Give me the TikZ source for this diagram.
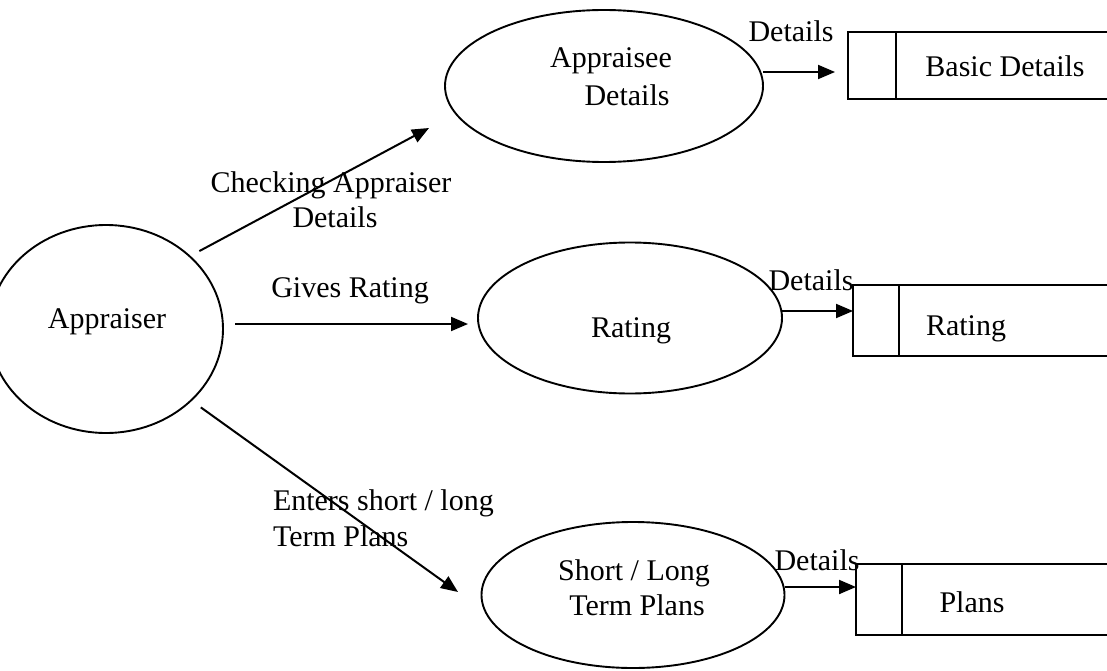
\documentclass[tikz,border=0pt]{standalone}
\usepackage{fontspec}
\setmainfont{Liberation Serif}
\usetikzlibrary{arrows.meta,shapes.geometric}

\begin{document}
\begin{tikzpicture}[x=1pt,y=-1pt,
  proc/.style={draw, ellipse, line width=1.9pt, inner sep=0pt, outer sep=0pt},
  store/.style={draw, rectangle, line width=1.9pt, inner sep=0pt, outer sep=0pt,
                anchor=west, minimum width=300pt},
  txt/.style={inner sep=0pt, outer sep=0pt, anchor=base, font=\fontsize{30}{36}\selectfont},
  ltxt/.style={txt, anchor=base west},
  flow/.style={line width=2pt, -{Triangle[length=17pt,width=14pt]}},
]
\useasboundingbox (0,0) rectangle (1107,671);

% processes
\node[proc, minimum width=234pt, minimum height=208pt] (appr) at (106,329) {};
\node[proc, minimum width=318pt, minimum height=152pt] (appee) at (604,86) {};
\node[proc, minimum width=304pt, minimum height=151pt] (rate) at (630,318) {};
\node[proc, minimum width=303pt, minimum height=146pt] (plan) at (633,595) {};

\node[txt] (apprT) at (107,328) {Appraiser};
\node[txt] (appeeT1) at (611,68) {Appraisee};
\node[txt] (appeeT2) at (627,106) {Details};
\node[txt] (rateT) at (631,337) {Rating};
\node[txt] (planT1) at (634,580) {Short / Long};
\node[txt] (planT2) at (637,615) {Term Plans};

% data stores (open on the right)
\node[store, minimum height=67pt] (s1) at (848,65.5) {};
\node[store, minimum height=71pt] (s2) at (853,320.5) {};
\node[store, minimum height=71pt] (s3) at (856,599.5) {};
\draw[line width=1.9pt] ([xshift=48pt]s1.north west) -- ([xshift=48pt]s1.south west);
\draw[line width=1.9pt] ([xshift=46pt]s2.north west) -- ([xshift=46pt]s2.south west);
\draw[line width=1.9pt] ([xshift=46pt]s3.north west) -- ([xshift=46pt]s3.south west);

\node[txt] (s1T) at (1005,77) {Basic Details};
\node[txt] (s2T) at (966,335) {Rating};
\node[txt] (s3T) at (972,612) {Plans};

% flows from the appraiser
\coordinate (chkEnd) at (429,128);
\coordinate (entEnd) at (458,592);
\draw[flow, shorten <=11pt] (appr.41.7) -- (chkEnd);
\draw[flow, shorten <=12pt, shorten >=10pt] ([yshift=5pt]appr.east) -- ([yshift=-6pt]rate.west);
\draw[flow, shorten <=12pt] (appr.-40) -- (entEnd);

\node[txt] (chkT1) at (331,192) {Checking Appraiser};
\node[txt] (chkT2) at (335,227) {Details};
\node[txt] (givT) at (350,297) {Gives Rating};
\node[ltxt] (entT1) at (273,510) {Enters short / long};
\node[ltxt] (entT2) at (273,546) {Term Plans};

% flows into the stores
\coordinate (d1Start) at ([yshift=14pt]appee.east);
\coordinate (d1End) at (835,72);
\draw[flow] (d1Start) -- (d1End);
\coordinate (d2Start) at ([yshift=7pt]rate.east);
\draw[flow] (d2Start) -- (d2Start -| s2.west);
\coordinate (d3Start) at ([yshift=8pt]plan.east);
\draw[flow] (d3Start) -- (d3Start -| s3.west);

\node[txt] (d1T) at (791,42) {Details};
\node[txt] (d2T) at (811,290) {Details};
\node[txt] (d3T) at (817,570) {Details};
\end{tikzpicture}
\end{document}
